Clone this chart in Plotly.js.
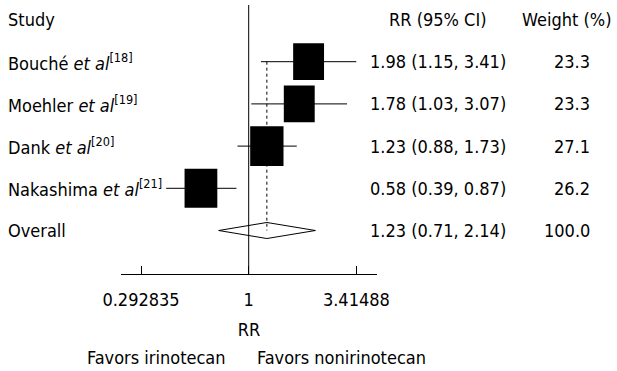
<!DOCTYPE html>
<html>
<head>
<meta charset="utf-8">
<script src="https://cdn.plot.ly/plotly-3.0.1.min.js"></script>
<style>html,body{margin:0;padding:0;background:#fff;}#chart{width:617px;height:371px;}</style>
</head>
<body>
<div id="chart"></div>
<script>
// ---- data ----
const studies = ['Bouché', 'Moehler', 'Dank', 'Nakashima'];
const refs = ['18', '19', '20', '21'];
const rr = [1.98, 1.78, 1.23, 0.58];
const ciLow = [1.15, 1.03, 0.88, 0.39];
const ciHigh = [3.41, 3.07, 1.73, 0.87];
const weights = [23.3, 23.3, 27.1, 26.2];
const overallLabel = 'Overall';
const overallRR = 1.23;
const overallLow = 0.71;
const overallHigh = 2.14;
const overallWeight = 100.0;
const tickVals = [0.292835, 1, 3.41488];
const tickText = ['0.292835', '1', '3.41488'];

// ---- layout helpers ----
const W = 617, H = 371;
const plotLeft = 121, plotRight = 377, plotTop = 5, plotBottom = 274;
const FONT = 'DejaVu Sans Condensed, DejaVu Sans, sans-serif';
const FS = 18;
const overallRow = studies.length + 1;
const px = p => p / W;
const py = p => (plotBottom - p) / (plotBottom - plotTop);
const xRange = [(plotLeft - 248.7) / 201.9, (plotRight - 248.7) / 201.9];
const pxPerDecade = (plotRight - plotLeft) / (xRange[1] - xRange[0]);

const rows = studies.map((s, i) => i + 1);

// CI lines
const ciX = [], ciY = [];
rows.forEach((r, i) => { ciX.push(ciLow[i], ciHigh[i], null); ciY.push(r, r, null); });

const dh = 0.19; // diamond half-height in row units
const traces = [
  {type: 'scatter', mode: 'lines', x: ciX, y: ciY, line: {color: '#000', width: 1}, hoverinfo: 'skip', showlegend: false},
  {type: 'scatter', mode: 'lines',
   x: [overallLow, overallRR, overallHigh, overallRR, overallLow],
   y: [overallRow, overallRow - dh, overallRow, overallRow + dh, overallRow],
   line: {color: '#000', width: 1}, fill: 'toself', fillcolor: '#fff', hoverinfo: 'skip', showlegend: false},
  {type: 'scatter', mode: 'lines', x: [overallRR, overallRR], y: [1, overallRow],
   line: {color: '#000', width: 1, dash: 'dot'}, hoverinfo: 'skip', showlegend: false}
];

const shapes = [
  {type: 'line', xref: 'x', yref: 'paper', x0: 1, x1: 1, y0: 0, y1: 1, line: {color: '#000', width: 1}, layer: 'above'}
];
rows.forEach((r, i) => {
  const s = Math.sqrt(weights[i]);
  const w = 6.4 * s, h = 7.6 * s;           // box size in px, scaled by weight
  const k = Math.pow(10, (w / 2) / pxPerDecade);
  shapes.push({type: 'rect', xref: 'x', yref: 'y', ysizemode: 'pixel',
    x0: rr[i] / k, x1: rr[i] * k, yanchor: r, y0: -h / 2, y1: h / 2,
    fillcolor: '#000', line: {width: 0}, layer: 'above'});
});

const ann = [];
const f = {family: FONT, size: FS, color: '#000'};
function add(text, x, y, xanchor, xref, yref, extra) {
  ann.push(Object.assign({text, x, y, xanchor, yanchor: 'middle', xref: xref || 'paper', yref: yref || 'y',
    showarrow: false, font: f}, extra || {}));
}
add('Study', px(6), 0, 'left');
add('RR (95% CI)', px(437.5), 0, 'center');
add('Weight (%)', px(567), 0, 'center');
rows.forEach((r, i) => {
  add(studies[i] + ' <i>et al</i><sup>[' + refs[i] + ']</sup>', px(6), r, 'left');
  add(rr[i].toFixed(2) + ' (' + ciLow[i].toFixed(2) + ', ' + ciHigh[i].toFixed(2) + ')', px(437.5), r, 'center');
  add(weights[i].toFixed(1), px(592), r, 'right');
});
add(overallLabel, px(6), overallRow, 'left');
add(overallRR.toFixed(2) + ' (' + overallLow.toFixed(2) + ', ' + overallHigh.toFixed(2) + ')', px(437.5), overallRow, 'center');
add(overallWeight.toFixed(1), px(592), overallRow, 'right');
add('Favors irinotecan', 0, py(357), 'right', 'x', 'paper', {xshift: -21});
add('Favors nonirinotecan', 0, py(357), 'left', 'x', 'paper', {xshift: 6});

// y range: row i at pixel 19.5 + 42.2*i
const r0 = 19.5, step = 42.2;
const yTop = (plotTop - r0) / step, yBot = (plotBottom - r0) / step;

const layout = {
  width: W, height: H,
  margin: {l: 0, r: 0, t: plotTop, b: H - plotBottom, pad: 0},
  paper_bgcolor: '#fff', plot_bgcolor: '#fff',
  font: f,
  showlegend: false,
  xaxis: {
    type: 'log', domain: [px(plotLeft), px(plotRight)],
    range: xRange,
    tickvals: tickVals, ticktext: tickText,
    ticks: 'inside', ticklen: 8, tickwidth: 1, tickcolor: '#000',
    showline: true, linecolor: '#000', linewidth: 1,
    showgrid: false, zeroline: false, ticklabelstandoff: 9,
    tickfont: f,
    title: {text: 'RR', font: f, standoff: 14}
  },
  yaxis: {range: [yBot, yTop], visible: false, showgrid: false, zeroline: false},
  shapes: shapes,
  annotations: ann
};

Plotly.newPlot('chart', traces, layout, {staticPlot: true, displayModeBar: false});
</script>
</body>
</html>
